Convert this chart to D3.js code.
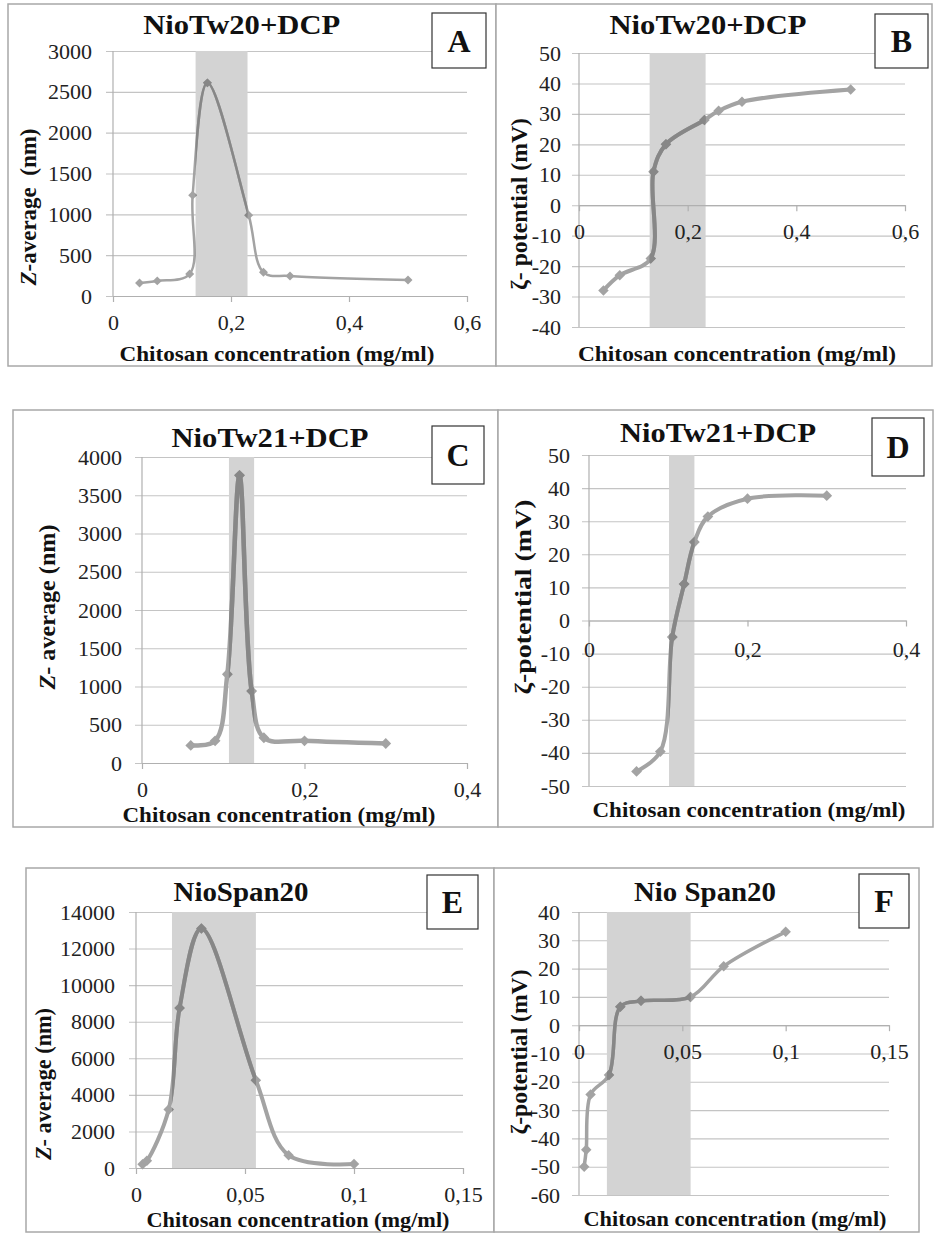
<!DOCTYPE html>
<html>
<head>
<meta charset="utf-8">
<script src="https://cdn.jsdelivr.net/npm/d3@7"></script>
<style>
  body { margin: 0; background: #fff; }
  svg { font-family: "Liberation Serif", "Times New Roman", serif; }
  svg text { white-space: pre; }
</style>
</head>
<body>
<svg id="fig" width="936" height="1233"></svg>
<script>
// ---- data ----
const concA = [0.045, 0.075, 0.13, 0.135, 0.16, 0.23, 0.255, 0.3, 0.5];
const sizeA = [160, 185, 270, 1235, 2610, 990, 290, 245, 195];
const concB = [0.045, 0.075, 0.132, 0.137, 0.16, 0.231, 0.257, 0.3, 0.5];
const zetaB = [-28, -23, -17.5, 11, 20, 28, 31, 34, 38];
const concC = [0.06, 0.09, 0.105, 0.12, 0.135, 0.15, 0.2, 0.3];
const sizeC = [230, 290, 1160, 3760, 940, 330, 290, 255];
const concD = [0.06, 0.09, 0.105, 0.12, 0.133, 0.15, 0.2, 0.3];
const zetaD = [-45.6, -39.6, -5, 11, 23.7, 31.4, 36.8, 37.7];
const concE = [0.003, 0.005, 0.015, 0.02, 0.03, 0.055, 0.07, 0.1];
const sizeE = [200, 400, 3200, 8750, 13100, 4800, 700, 220];
const concF = [0.0025, 0.0035, 0.0056, 0.0145, 0.02, 0.03, 0.054, 0.07, 0.1];
const zetaF = [-50, -44, -24.5, -17.6, 6.5, 8.6, 10, 20.8, 33];

// shaded concentration ranges
const bandA = [0.14, 0.228];
const bandB = [0.13, 0.233];
const bandC = [0.107, 0.138];
const bandD = [0.101, 0.133];
const bandE = [0.0165, 0.055];
const bandF = [0.0135, 0.054];

// ticks
const xTicks06 = [0, 0.2, 0.4, 0.6];
const xTicks04 = [0, 0.2, 0.4];
const xTicks015 = [0, 0.05, 0.1, 0.15];
const yTicksA = [0, 500, 1000, 1500, 2000, 2500, 3000];
const yTicksB = [-40, -30, -20, -10, 0, 10, 20, 30, 40, 50];
const yTicksC = [0, 500, 1000, 1500, 2000, 2500, 3000, 3500, 4000];
const yTicksD = [-50, -40, -30, -20, -10, 0, 10, 20, 30, 40, 50];
const yTicksE = [0, 2000, 4000, 6000, 8000, 10000, 12000, 14000];
const yTicksF = [-60, -50, -40, -30, -20, -10, 0, 10, 20, 30, 40];

// texts
const titles = ["NioTw20+DCP", "NioTw20+DCP", "NioTw21+DCP", "NioTw21+DCP", "NioSpan20", "Nio Span20"];
const letters = ["A", "B", "C", "D", "E", "F"];
const yTitles = [
  [["Z", true], ["-average  (nm)", false]],
  [["ζ- potential (mV)", false]],
  [["Z", true], ["- average (nm)", false]],
  [["ζ-potential (mV)", false]],
  [["Z", true], ["- average (nm)", false]],
  [["ζ-potential (mV)", false]]
];
const xTitle = "Chitosan concentration (mg/ml)";

// ---- layout (pixels) ----
const panels = [
  { xs: concA, ys: sizeA, band: bandA, xDom: [0, 0.6], yDom: [0, 3000], xT: xTicks06, yT: yTicksA,
    frame: [8, 4, 496, 366], xr: [113, 467], yr: [296, 51], zeroAxis: false, xLabY: 323, yLabR: 92,
    title: [241.7, 25, 197], box: [432, 13, 486, 68], yTitle: [28, 207, 157], xTitle: [277, 353, 315], lw: 2.5, ms: 40 },
  { xs: concB, ys: zetaB, band: bandB, xDom: [0, 0.6], yDom: [-40, 50], xT: xTicks06, yT: yTicksB,
    frame: [496, 4, 932, 366], xr: [579, 905], yr: [327, 53], zeroAxis: true, xLabY: 232, yLabR: 561,
    title: [708, 25, 197], box: [875, 14, 928, 68], yTitle: [519, 204, 172], xTitle: [737, 353, 318], lw: 4, ms: 55 },
  { xs: concC, ys: sizeC, band: bandC, xDom: [0, 0.4], yDom: [0, 4000], xT: xTicks04, yT: yTicksC,
    frame: [13, 410, 498, 827], xr: [142, 467], yr: [763, 457], zeroAxis: false, xLabY: 790, yLabR: 122,
    title: [270, 438, 197], box: [432, 426, 484, 484], yTitle: [47, 607, 165], xTitle: [279, 814, 313], lw: 4.5, ms: 58 },
  { xs: concD, ys: zetaD, band: bandD, xDom: [0, 0.4], yDom: [-50, 50], xT: xTicks04, yT: yTicksD,
    frame: [498, 410, 933, 827], xr: [589, 906], yr: [786, 455], zeroAxis: true, xLabY: 650, yLabR: 570,
    title: [718, 433, 196], box: [872, 418, 924, 476], yTitle: [523, 597, 195], xTitle: [749, 809, 313], lw: 4, ms: 58 },
  { xs: concE, ys: sizeE, band: bandE, xDom: [0, 0.15], yDom: [0, 14000], xT: xTicks015, yT: yTicksE,
    frame: [26, 868, 494, 1232], xr: [136, 463], yr: [1168, 912], zeroAxis: false, xLabY: 1195, yLabR: 115,
    title: [241, 892, 135], box: [427, 875, 478, 929], yTitle: [43, 1084, 152], xTitle: [298, 1219, 303], lw: 4, ms: 55 },
  { xs: concF, ys: zetaF, band: bandF, xDom: [0, 0.15], yDom: [-60, 40], xT: xTicks015, yT: yTicksF,
    frame: [494, 868, 919, 1232], xr: [579, 889], yr: [1195, 912], zeroAxis: true, xLabY: 1052, yLabR: 560,
    title: [705, 892, 142], box: [859, 874, 909, 928], yTitle: [519, 1052, 165], xTitle: [735, 1218, 303], lw: 3.5, ms: 55 }
];

const svg = d3.select("#fig");
const tickFs = 22;
const fmt = (v) => String(v).replace(".", ",");

function fit(text, width) {
  text.attr("textLength", width).attr("lengthAdjust", "spacingAndGlyphs");
}

panels.forEach((p, i) => {
  const g = svg.append("g");
  const x = d3.scaleLinear().domain(p.xDom).range(p.xr);
  const y = d3.scaleLinear().domain(p.yDom).range(p.yr);
  const [fx0, fy0, fx1, fy1] = p.frame;

  g.append("rect")
    .attr("x", fx0).attr("y", fy0)
    .attr("width", fx1 - fx0).attr("height", fy1 - fy0)
    .attr("fill", "#fff").attr("stroke", "#a8a8a8").attr("stroke-width", 1.5);

  // horizontal gridlines + y tick labels
  const ext = 7;
  const yAxis = d3.axisLeft(y)
    .tickValues(p.yT)
    .tickFormat(fmt)
    .tickSize(-(p.xr[1] - p.xr[0] + ext))
    .tickPadding(p.xr[0] - ext - p.yLabR);
  const ya = g.append("g")
    .attr("transform", `translate(${p.xr[0] - ext},0)`)
    .call(yAxis)
    .attr("font-family", null)
    .attr("font-size", tickFs);
  ya.select(".domain").remove();
  ya.selectAll(".tick line").attr("stroke", "#c4c4c4").attr("stroke-width", 1.1);
  ya.selectAll(".tick text").attr("fill", "#222");

  // shaded range
  const bx0 = x(p.band[0]), bx1 = x(p.band[1]);
  g.append("rect")
    .attr("x", bx0).attr("y", p.yr[1])
    .attr("width", bx1 - bx0).attr("height", p.yr[0] - p.yr[1])
    .attr("fill", "#d3d3d3");

  // vertical axis line
  g.append("line")
    .attr("x1", p.xr[0]).attr("x2", p.xr[0])
    .attr("y1", p.yr[1]).attr("y2", p.yr[0])
    .attr("stroke", "#b0b0b0").attr("stroke-width", 1.2);

  // x axis (at the bottom or along zero)
  const axisY = p.zeroAxis ? y(0) : p.yr[0];
  const tick = 6;
  const xAxis = d3.axisBottom(x)
    .tickValues(p.xT)
    .tickFormat(fmt)
    .tickSizeInner(tick)
    .tickSizeOuter(0)
    .tickPadding(p.xLabY - axisY - tick - 0.37 * tickFs);
  const xa = g.append("g")
    .attr("transform", `translate(0,${axisY})`)
    .call(xAxis)
    .attr("font-family", null)
    .attr("font-size", tickFs);
  xa.select(".domain").attr("stroke", "#b0b0b0").attr("stroke-width", 1.2);
  xa.selectAll(".tick line").attr("stroke", "#b0b0b0").attr("stroke-width", 1.2);
  xa.selectAll(".tick text").attr("fill", "#222");

  // series: smooth line with diamond markers; darker where it passes the shaded range
  const pts = d3.zip(p.xs, p.ys);
  const line = d3.line()
    .x((d) => x(d[0]))
    .y((d) => y(d[1]))
    .curve(d3.curveCatmullRom.alpha(0.5));
  const clipId = "band" + i;
  svg.append("clipPath").attr("id", clipId)
    .append("rect")
    .attr("x", bx0).attr("y", p.yr[1] - 20)
    .attr("width", bx1 - bx0).attr("height", p.yr[0] - p.yr[1] + 40);

  function series(parent, color) {
    parent.append("path")
      .attr("d", line(pts))
      .attr("fill", "none")
      .attr("stroke", color)
      .attr("stroke-width", p.lw)
      .attr("stroke-linejoin", "round")
      .attr("stroke-linecap", "round");
    parent.selectAll("path.mark")
      .data(pts)
      .join("path")
      .attr("class", "mark")
      .attr("d", d3.symbol(d3.symbolSquare, p.ms))
      .attr("transform", (d) => `translate(${x(d[0])},${y(d[1])}) rotate(45)`)
      .attr("fill", color);
  }
  series(g.append("g"), "#a3a3a3");
  series(g.append("g").attr("clip-path", `url(#${clipId})`), "#878787");

  // chart title
  const t = g.append("text")
    .attr("x", p.title[0]).attr("y", p.title[1])
    .attr("dy", "0.35em")
    .attr("text-anchor", "middle")
    .attr("font-weight", "bold")
    .attr("font-size", 27)
    .attr("fill", "#111")
    .text(titles[i]);
  fit(t, p.title[2]);

  // panel letter box
  const [bX0, bY0, bX1, bY1] = p.box;
  g.append("rect")
    .attr("x", bX0).attr("y", bY0)
    .attr("width", bX1 - bX0).attr("height", bY1 - bY0)
    .attr("fill", "#fff").attr("stroke", "#333").attr("stroke-width", 1.2);
  g.append("text")
    .attr("x", (bX0 + bX1) / 2).attr("y", (bY0 + bY1) / 2)
    .attr("dy", "0.35em")
    .attr("text-anchor", "middle")
    .attr("font-weight", "bold")
    .attr("font-size", 32)
    .attr("fill", "#111")
    .text(letters[i]);

  // y axis title
  const yt = g.append("text")
    .attr("transform", `translate(${p.yTitle[0]},${p.yTitle[1]}) rotate(-90)`)
    .attr("dy", "0.35em")
    .attr("text-anchor", "middle")
    .attr("font-weight", "bold")
    .attr("font-size", 23)
    .attr("fill", "#111");
  yTitles[i].forEach(([s, it]) => {
    yt.append("tspan").attr("font-style", it ? "italic" : "normal").text(s);
  });
  fit(yt, p.yTitle[2]);

  // x axis title
  const xt = g.append("text")
    .attr("x", p.xTitle[0]).attr("y", p.xTitle[1])
    .attr("dy", "0.35em")
    .attr("text-anchor", "middle")
    .attr("font-weight", "bold")
    .attr("font-size", 22)
    .attr("fill", "#111")
    .text(xTitle);
  fit(xt, p.xTitle[2]);
});
</script>
</body>
</html>
